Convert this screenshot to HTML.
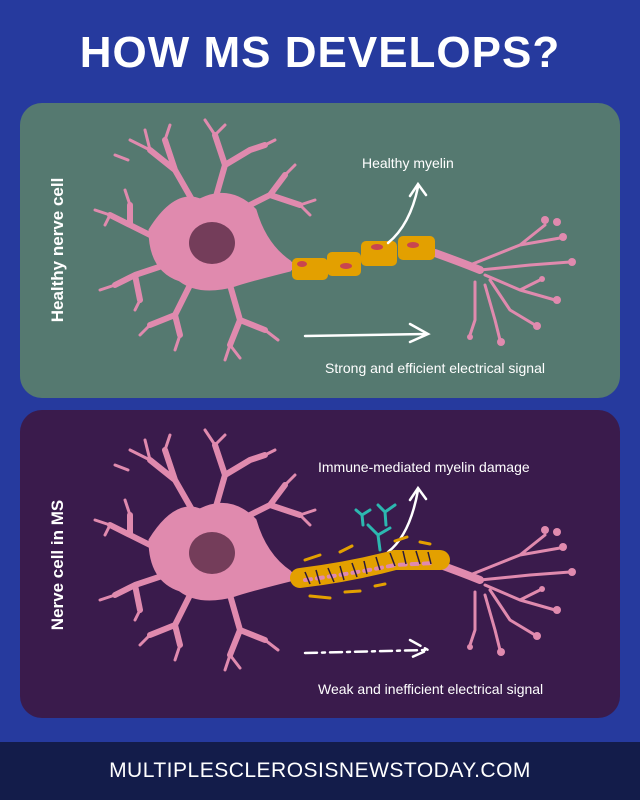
<!DOCTYPE html>
<html><head><style>
body{margin:0;width:640px;height:800px;background:#263a9e;position:relative;overflow:hidden;font-family:"Liberation Sans",sans-serif}
.t{position:absolute;left:0;width:640px;text-align:center;top:28px;color:#fff;font-weight:bold;font-size:44px;letter-spacing:1px}
.p{position:absolute;left:20px;width:600px;border-radius:22px}
.f{position:absolute;left:0;top:742px;width:640px;height:58px;background:#131c4a;color:#fff;font-size:21px;text-align:center;line-height:58px;letter-spacing:0.5px}
</style></head><body>
<div class="t">HOW MS DEVELOPS?</div>
<div class="p" style="top:103px;height:295px;background:#557970"></div>
<div class="p" style="top:410px;height:308px;background:#3a1b4c"></div>
<svg width="640" height="800" style="position:absolute;left:0;top:0">
<defs>
<g id="n" fill="none" stroke="#e08aae" stroke-linecap="round" stroke-linejoin="round">
<path d="M150,230 Q175,190 200,200 Q230,185 255,210 Q265,245 290,262 L290,270 Q250,280 235,285 Q200,295 180,280 Q150,270 150,230Z" fill="#e08aae" stroke-width="3"/>
<g stroke-width="6"><path d="M195,205 L175,170 L150,150 M175,170 L165,140"/><path d="M215,200 L225,165 L215,135 M225,165 L250,150 L265,145"/><path d="M240,210 L270,195 L285,175 M270,195 L300,205"/><path d="M160,240 L130,225 L110,215 M130,225 L130,205"/><path d="M165,265 L135,275 L115,285 M135,275 L140,300"/><path d="M190,285 L175,315 L150,325 M175,315 L180,335"/><path d="M230,285 L240,320 L230,345 M240,320 L265,330"/></g>
<g stroke-width="3"><path d="M150,150 L130,140 M150,150 L145,130 M165,140 L170,125 M215,135 L205,120 M215,135 L225,125 M265,145 L275,140 M285,175 L295,165 M300,205 L315,200 M300,205 L310,215 M110,215 L95,210 M110,215 L105,225 M130,205 L125,190 M115,285 L100,290 M140,300 L135,310 M150,325 L140,335 M180,335 L175,350 M230,345 L225,360 M230,345 L240,358 M265,330 L278,340 M128,160 L115,155"/></g>
<path d="M290,266 L300,266 M435,253 Q460,262 480,270" stroke-width="8"/>
<g stroke-width="3"><path d="M470,265 L520,245 L545,225 M520,245 L560,238 M480,270 L530,265 L570,262 M485,275 L520,290 L555,300 M490,280 L510,310 L535,325 M485,285 L495,320 L500,340 M475,282 L475,320 L470,335 M520,290 L540,280"/></g>
<g fill="#e08aae" stroke="none"><circle cx="545" cy="220" r="4"/><circle cx="563" cy="237" r="4"/><circle cx="572" cy="262" r="4"/><circle cx="557" cy="300" r="4"/><circle cx="537" cy="326" r="4"/><circle cx="501" cy="342" r="4"/><circle cx="470" cy="337" r="3"/><circle cx="557" cy="222" r="4"/><circle cx="542" cy="279" r="3"/></g>
<ellipse cx="212" cy="243" rx="23" ry="21" fill="#743d5a" stroke="none"/>
</g>
</defs>
<use href="#n"/>
<use href="#n" y="310"/>
<g fill="#e3a000"><rect x="292" y="258" width="36" height="22" rx="5"/><rect x="327" y="252" width="34" height="24" rx="5"/><rect x="361" y="241" width="36" height="25" rx="5"/><rect x="398" y="236" width="37" height="24" rx="5"/></g>
<g fill="#c9454f"><ellipse cx="302" cy="264" rx="5" ry="3"/><ellipse cx="346" cy="266" rx="6" ry="3"/><ellipse cx="377" cy="247" rx="6" ry="3"/><ellipse cx="413" cy="245" rx="6" ry="3"/></g>
<g stroke="#fff" fill="none" stroke-width="2.5" stroke-linecap="round"><path d="M388,243 Q410,225 418,187 M410,196 L418,184 L426,195"/><path d="M305,336 L425,334 M410,324 L428,334 L410,342"/><path d="M388,552 Q410,535 418,490 M410,500 L418,488 L426,499"/><path d="M305,653 L425,650 M410,640 L428,650 L410,658" stroke-dasharray="12,5,3,5"/></g>
<g stroke="#e3a000" fill="none" stroke-linecap="round"><path d="M300,578 Q350,572 395,560 L440,560" stroke-width="20"/></g>
<g stroke="#e08aae" stroke-width="4" fill="none" stroke-linecap="round" stroke-dasharray="6,6"><path d="M305,580 Q350,574 395,565 L435,563"/></g>
<g stroke="#2a1a3a" stroke-width="1.5" fill="none"><path d="M305,572 l5,12 M316,570 l4,14 M328,568 l6,14 M340,566 l4,14 M352,563 l5,14 M364,561 l3,13 M376,557 l4,13 M390,553 l5,13 M403,551 l3,13 M416,551 l4,13 M428,552 l3,12"/></g>
<g stroke="#e3a000" stroke-width="3" stroke-linecap="round"><path d="M305,560 l15,-5 M340,552 l12,-6 M395,541 l12,-4 M420,542 l10,2 M310,596 l20,2 M345,592 l15,-1 M375,586 l10,-2"/></g>
<g stroke="#2cb8b0" stroke-width="3" fill="none" stroke-linecap="round"><path d="M380,550 L378,535 L368,525 M378,535 L390,528"/><path d="M386,525 L385,512 L378,505 M385,512 L395,505"/><path d="M363,525 L362,515 L356,510 M362,515 L370,510"/></g>
<text x="362" y="168" fill="#fff" font-family="Liberation Sans" font-size="14">Healthy myelin</text>
<text x="325" y="373" fill="#fff" font-family="Liberation Sans" font-size="14">Strong and efficient electrical signal</text>
<text x="318" y="472" fill="#fff" font-family="Liberation Sans" font-size="14">Immune-mediated myelin damage</text>
<text x="318" y="694" fill="#fff" font-family="Liberation Sans" font-size="14">Weak and inefficient electrical signal</text>
<text transform="translate(63,250) rotate(-90)" text-anchor="middle" fill="#fff" font-family="Liberation Sans" font-weight="bold" font-size="17">Healthy nerve cell</text>
<text transform="translate(63,565) rotate(-90)" text-anchor="middle" fill="#fff" font-family="Liberation Sans" font-weight="bold" font-size="17">Nerve cell in MS</text>
</svg>
<div class="f">MULTIPLESCLEROSISNEWSTODAY.COM</div>
</body></html>
